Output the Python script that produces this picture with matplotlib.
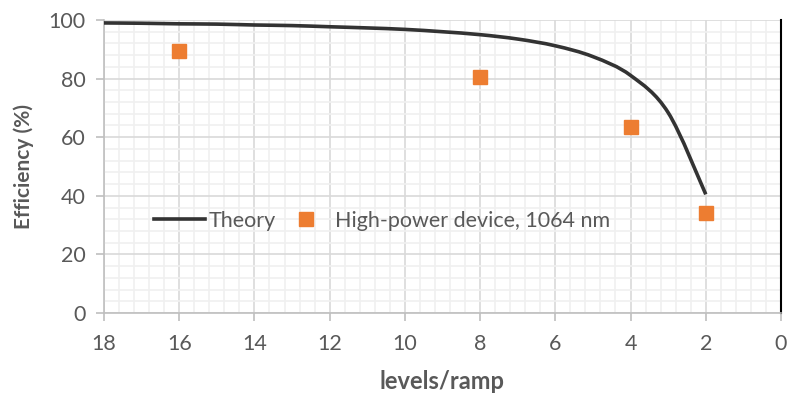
import matplotlib.pyplot as plt
from matplotlib.ticker import MultipleLocator
from matplotlib.path import Path
from matplotlib.patches import PathPatch
from matplotlib.lines import Line2D
import numpy as np

# theory curve (levels per ramp vs efficiency %)
theory_levels = [2, 3, 4, 5, 6, 7, 8, 9, 10, 11, 12, 13, 14, 15, 16, 17, 18]
theory_eff = [40.5, 68.4, 81.1, 87.5, 91.2, 93.5, 95.0, 96.0, 96.8, 97.3,
              97.7, 98.1, 98.3, 98.6, 98.7, 98.9, 99.0]

# measured points
device_levels = [16, 8, 4, 2]
device_eff = [89.5, 80.5, 63.5, 34.0]

plt.rcParams['font.family'] = ['Lato', 'DejaVu Sans']

fig = plt.figure(figsize=(7.9, 3.94), dpi=100)
ax = fig.add_axes([0.1316, 0.2056, 0.857, 0.7436])

# smoothed line like a spreadsheet "smooth line": bezier segments through the points
pts = np.column_stack([theory_levels, theory_eff]).astype(float)
verts = [pts[0]]
codes = [Path.MOVETO]
for i in range(len(pts) - 1):
    p0 = pts[i - 1] if i > 0 else pts[i]
    p1, p2 = pts[i], pts[i + 1]
    p3 = pts[i + 2] if i + 2 < len(pts) else pts[i + 1]
    verts += [p1 + (p2 - p0) / 6, p2 - (p3 - p1) / 6, p2]
    codes += [Path.CURVE4] * 3
ax.add_patch(PathPatch(Path(verts, codes), fill=False, edgecolor='#333333',
                       lw=2.6, zorder=3))

ax.plot(device_levels, device_eff, ls='none', marker='s', ms=10.5,
        color='#ED7D31', label='High-power device, 1064 nm', zorder=4)

ax.set_xlim(18, 0)
ax.set_ylim(0, 100)
ax.xaxis.set_major_locator(MultipleLocator(2))
ax.xaxis.set_minor_locator(MultipleLocator(0.4))
ax.yaxis.set_major_locator(MultipleLocator(20))
ax.yaxis.set_minor_locator(MultipleLocator(4))
ax.grid(which='major', color='#D9D9D9', lw=1.2)
ax.grid(which='minor', color='#F0F0F0', lw=1.2)
ax.set_axisbelow(True)

for side in ['left', 'bottom']:
    ax.spines[side].set_color('#BFBFBF')
    ax.spines[side].set_linewidth(1.2)
ax.spines['top'].set_visible(False)
ax.spines['right'].set_color('black')
ax.spines['right'].set_linewidth(1.5)

ax.tick_params(which='major', length=6, color='#BFBFBF', labelsize=15.5,
               labelcolor='#595959', width=1.2)
ax.tick_params(which='minor', length=0)
ax.tick_params(axis='x', pad=9)
ax.tick_params(axis='y', pad=7)

ax.set_xlabel('levels/ramp', fontsize=17, fontweight='bold', color='#595959',
              labelpad=12)
ax.set_ylabel('Efficiency (%)', fontsize=15, fontweight='bold', color='#595959',
              labelpad=11)

theory_handle = Line2D([], [], color='#333333', lw=2.6, label='Theory')
handles = [theory_handle, ax.get_lines()[0]]
leg = ax.legend(handles=handles, loc='center left', bbox_to_anchor=(0.045, 0.315),
                ncol=2, frameon=False, fontsize=15.5, handlelength=2.4,
                handletextpad=0.15, columnspacing=0.2, labelcolor='#595959')

fig.savefig('out.png', dpi=100)
